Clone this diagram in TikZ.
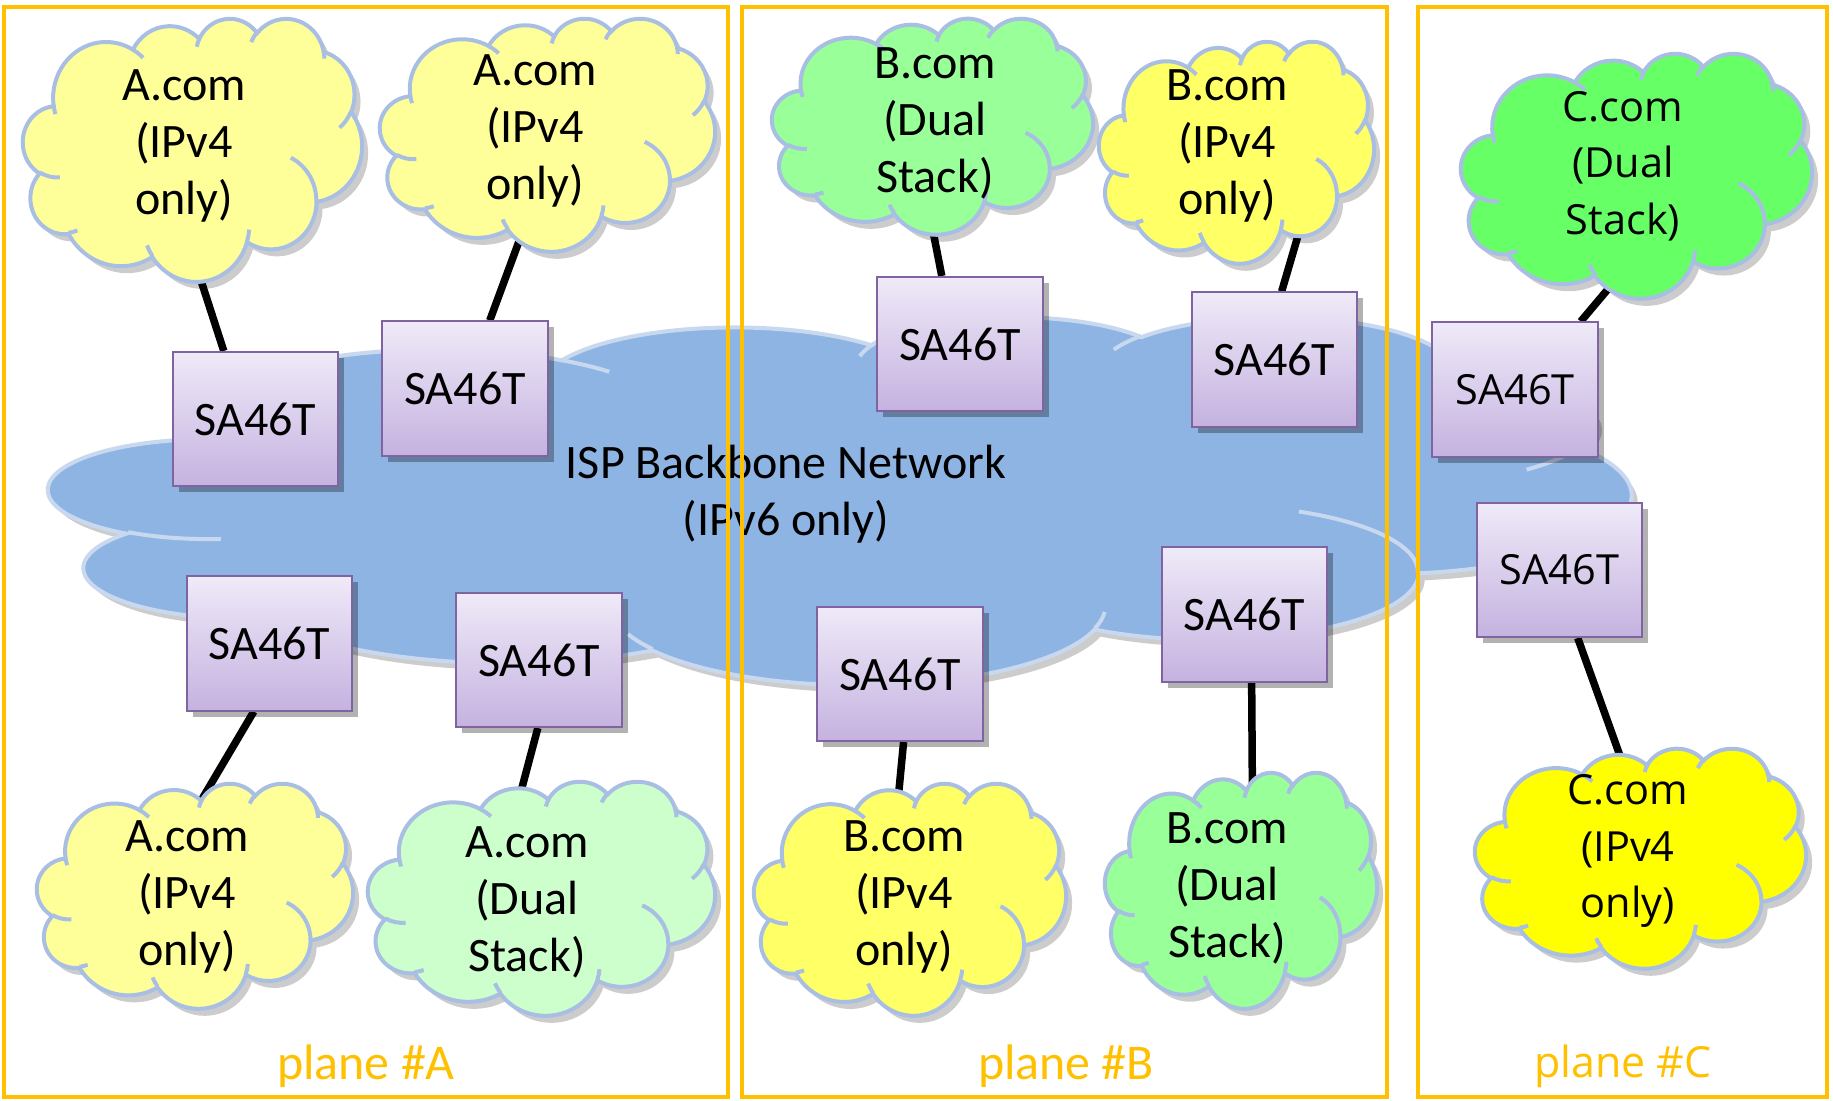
\documentclass[tikz,border=0pt]{standalone}
\usepackage{fontspec}
\setmainfont{Carlito}
\newfontfamily\segoefont{Open Sans}
\usepackage{xcolor}
\usetikzlibrary{shadows}

\definecolor{planeorange}{HTML}{FFC000}
\definecolor{backbone}{HTML}{8EB4E3}
\definecolor{backboneedge}{HTML}{C8D8EF}
\definecolor{cloudedge}{HTML}{A9BEE3}
\definecolor{satop}{HTML}{EFEAF8}
\definecolor{sabottom}{HTML}{C5B2E0}
\definecolor{saedge}{HTML}{8064A2}
\definecolor{ipvfourA}{HTML}{FFFF99}
\definecolor{ipvfourB}{HTML}{FFFF66}
\definecolor{ipvfourC}{HTML}{FFFF00}
\definecolor{dualA}{HTML}{CCFFCC}
\definecolor{dualB}{HTML}{99FF99}
\definecolor{dualC}{HTML}{66FF66}

\pgfdeclarelayer{background}
\pgfsetlayers{background,main}

% arc of the office cloud (radii, start and sweep as visual angles)
\newcommand{\pptarc}[4]{arc[x radius=#1, y radius=#2, start angle={atan2(#1*sin(#3),#2*cos(#3))}, delta angle={Mod(atan2(#1*sin(#3+#4),#2*cos(#3+#4))-atan2(#1*sin(#3),#2*cos(#3)),360)}]}
% cloud outline in a 432 x 432 box
\newcommand{\cloudline}{(39.00,143.70) \pptarc{67.53}{91.90}{-190.4875}{123.7805} \pptarc{53.33}{72.67}{-144.1024}{89.9452} \pptarc{43.65}{59.45}{-145.8079}{99.7230} \pptarc{48.57}{65.95}{-130.9861}{117.2417} \pptarc{53.33}{72.73}{-78.7089}{109.0269} \pptarc{67.75}{92.20}{-46.2673}{130.2690} \pptarc{57.85}{78.67}{0.6250}{114.0333} \pptarc{67.52}{92.15}{22.4516}{115.1726} \pptarc{77.20}{105.43}{66.2426}{75.7110} \pptarc{43.60}{59.18}{-274.9421}{146.7356} \pptarc{43.45}{59.45}{-246.8285}{152.5189} -- cycle}
\newcommand{\cloudcurls}{(46.93,261.77) \pptarc{43.45}{59.45}{86.7420}{26.4295} (69.28,348.99) \pptarc{43.60}{59.18}{73.6105}{11.4475} (164.78,390.90) \pptarc{67.52}{92.15}{137.6242}{14.0811} (288.27,347.51) \pptarc{67.52}{92.15}{6.4533}{15.9984} (341.29,229.54) \pptarc{57.85}{78.67}{-70.2924}{70.9174} (417.98,153.54) \pptarc{53.33}{72.73}{30.3180}{27.7515} (383.24,54.26) \pptarc{48.57}{65.95}{-13.7443}{14.8589} (290.78,39.52) \pptarc{48.57}{65.95}{-149.1815}{18.1954} (221.41,47.20) \pptarc{43.65}{59.45}{-163.4943}{17.6864} (140.00,51.92) \pptarc{67.53}{91.90}{-66.7070}{12.3194} (41.27,157.89) \pptarc{67.53}{91.90}{157.6544}{11.8582}}
% #1,#2 top left corner, #3 width, #4 height, #5 style
\newcommand{\pptcloud}[5]{%
  \begin{scope}[shift={(#1+6,#2+7)}, xscale={#3/432}, yscale={#4/432}]
    \fill[black, opacity=0.2] \cloudline;
  \end{scope}
  \begin{scope}[shift={(#1,#2)}, xscale={#3/432}, yscale={#4/432}]
    \path[#5] \cloudline;
    \path[#5, fill=none] \cloudcurls;
  \end{scope}}

\begin{document}
\begin{tikzpicture}[x=0.01cm, y=-0.01cm,
  sabox/.style={draw=saedge, line width=0.02cm, top color=satop, bottom color=sabottom,
    minimum width=1.65cm, minimum height=1.34cm, inner sep=0pt,
    font=\fontsize{13.66}{16.2}\selectfont,
    drop shadow={shadow xshift=0.06cm, shadow yshift=-0.06cm, opacity=0.3, fill=black}},
  segoebox/.style={sabox, font=\segoefont\fontsize{11.8}{14}\selectfont},
  cloudtext/.style={align=center, inner sep=0pt, font=\fontsize{13.66}{16.2}\selectfont},
  segoetext/.style={cloudtext, font=\segoefont\fontsize{11.8}{16.1}\selectfont},
  puff/.style={draw=cloudedge, line width=0.04cm},
  link/.style={line width=0.075cm, shorten >=-12pt},
  planeframe/.style={draw=planeorange, line width=0.04cm},
  planelabel/.style={text=planeorange, font=\fontsize{14.2}{17}\selectfont}]

  \useasboundingbox (0,0) rectangle (1833,1101);

%  Backbone and planes
  \begin{pgfonlayer}{background}
    \pptcloud{49}{316}{1582}{368}{fill=backbone, draw=backboneedge, line width=0.04cm}
    \node[cloudtext] (backbone_text) at (786,494) {ISP Backbone Network\\(IPv6 only)};

    \draw[planeframe] (4,7) rectangle (728,1097);
    \draw[planeframe] (742,7) rectangle (1387,1097);
    \draw[planeframe] (1418,7) rectangle (1827,1097);
  \end{pgfonlayer}

  \node[planelabel] (label_a) at (366,1066) {plane \#A};
  \node[planelabel] (label_b) at (1066,1066) {plane \#B};
  \node[planelabel, font=\segoefont\fontsize{12.2}{15}\selectfont] (label_c) at (1623,1066) {plane \#C};

%  Sites
  \pptcloud{23}{18}{339}{263}{fill=ipvfourA, puff}
  \node[cloudtext, minimum width=3.39cm, minimum height=2.63cm] (cloud_a1) at (184,146) {A.com\\(IPv4\\only)};
  \pptcloud{380}{18}{335}{233}{fill=ipvfourA, puff}
  \node[cloudtext, minimum width=3.35cm, minimum height=2.33cm] (cloud_a2) at (535,131) {A.com\\(IPv4\\only)};
  \pptcloud{772}{18}{321}{216}{fill=dualB, puff}
  \node[cloudtext, minimum width=3.21cm, minimum height=2.16cm] (cloud_b1) at (935,123) {B.com\\(Dual\\Stack)};
  \pptcloud{1099}{41}{275}{222}{fill=ipvfourB, puff}
  \node[cloudtext, minimum width=2.75cm, minimum height=2.22cm] (cloud_b2) at (1227,146) {B.com\\(IPv4\\only)};
  \pptcloud{1461}{53}{351}{245}{fill=dualC, puff}
  \node[segoetext, minimum width=3.51cm, minimum height=2.45cm] (cloud_c1) at (1623,166) {C.com\\(Dual\\Stack)};

  \pptcloud{37}{783}{316}{225}{fill=ipvfourA, puff}
  \node[cloudtext, minimum width=3.16cm, minimum height=2.25cm] (cloud_a3) at (187,897) {A.com\\(IPv4\\only)};
  \pptcloud{368}{781}{347}{234}{fill=dualA, puff}
  \node[cloudtext, minimum width=3.47cm, minimum height=2.34cm] (cloud_a4) at (527,902) {A.com\\(Dual\\Stack)};
  \pptcloud{754}{783}{312}{232}{fill=ipvfourB, puff}
  \node[cloudtext, minimum width=3.12cm, minimum height=2.32cm] (cloud_b3) at (904,897) {B.com\\(IPv4\\only)};
  \pptcloud{1105}{772}{272}{236}{fill=dualB, puff}
  \node[cloudtext, minimum width=2.72cm, minimum height=2.36cm] (cloud_b4) at (1227,888) {B.com\\(Dual\\Stack)};
  \pptcloud{1475}{748}{331}{220}{fill=ipvfourC, puff}
  \node[segoetext, minimum width=3.31cm, minimum height=2.20cm] (cloud_c2) at (1628,851) {C.com\\(IPv4\\only)};

%  Translators
  \node[sabox] (box_a1) at (255.5,419) {SA46T};
  \node[sabox] (box_a2) at (465,388.5) {SA46T};
  \node[sabox] (box_b1) at (960,344) {SA46T};
  \node[sabox] (box_b2) at (1274.5,359.5) {SA46T};
  \node[segoebox] (box_c1) at (1515,389.5) {SA46T};
  \node[segoebox] (box_c2) at (1559.5,570) {SA46T};
  \node[sabox] (box_a3) at (269.5,643.5) {SA46T};
  \node[sabox] (box_a4) at (539,660) {SA46T};
  \node[sabox] (box_b3) at (900,674) {SA46T};
  \node[sabox] (box_b4) at (1244.5,614.5) {SA46T};

%  Links
  \begin{pgfonlayer}{background}
    \draw[link] (box_a1.115) -- (cloud_a1.277);
    \draw[link] (box_a2.70) -- (cloud_a2.261);
    \draw[link] (box_b1.105) -- (cloud_b1.269);
    \draw[link] (box_b2.84) -- (cloud_b2.300);
    \draw[link] (box_c1.46) -- (cloud_c1.263);
    \draw[link] (box_a3.257) -- (cloud_a3.78);
    \draw[link] (box_a4.269) -- (cloud_a4.92);
    \draw[link] (box_b3.273) -- (cloud_b3.92);
    \draw[link] (box_b4.276) -- (cloud_b4.78);
    \draw[link] (box_c2.285) -- (cloud_c2.97);
  \end{pgfonlayer}

\end{tikzpicture}
\end{document}
